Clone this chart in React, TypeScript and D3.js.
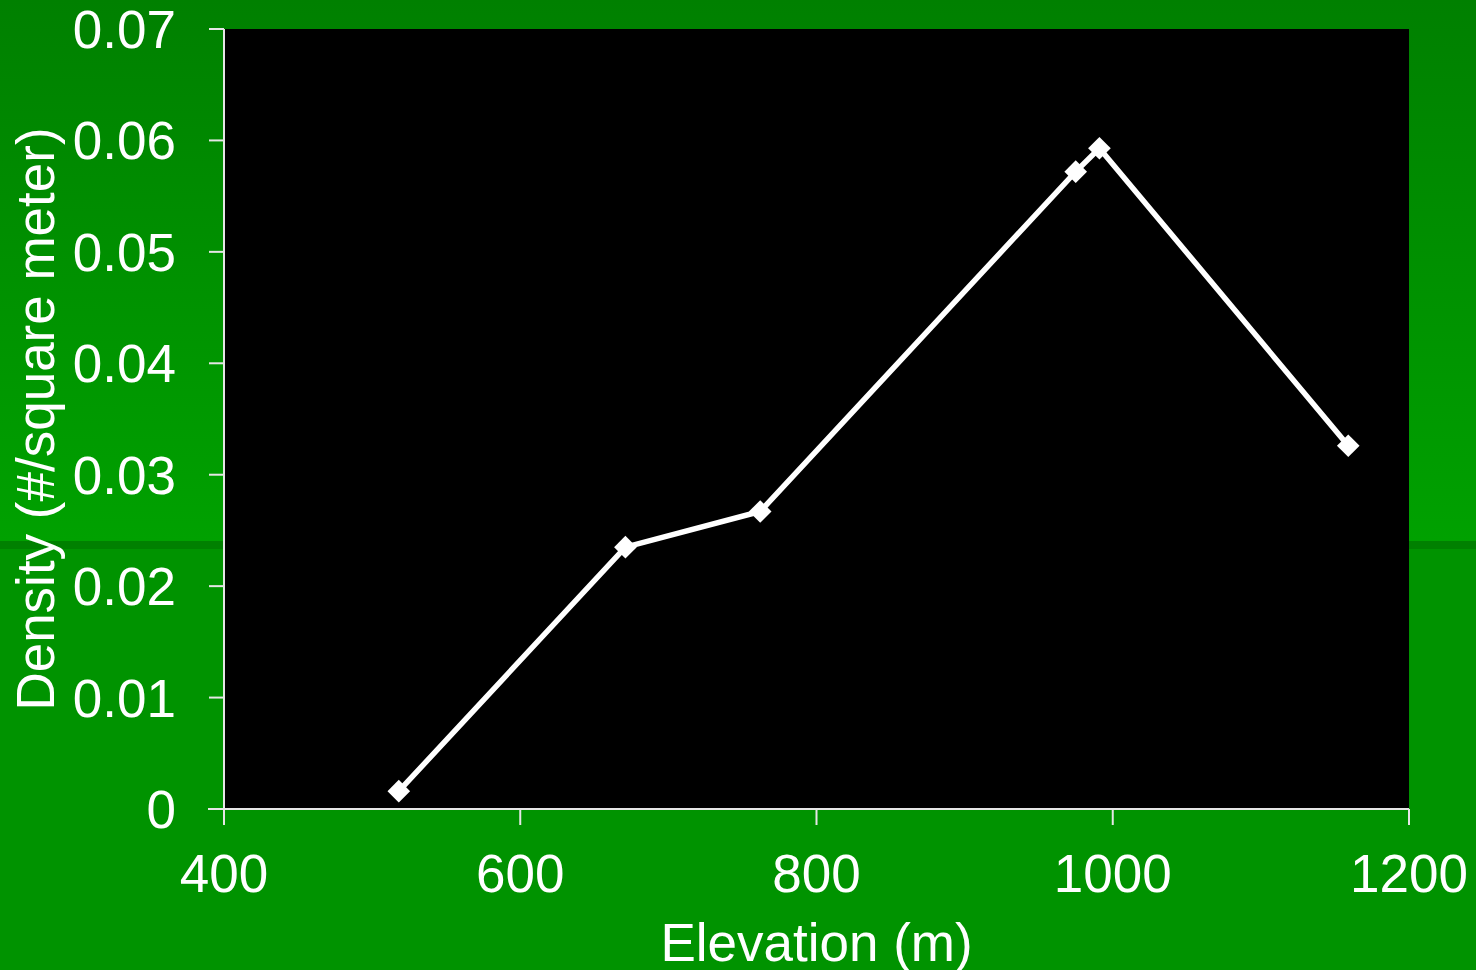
import React from "react";
import * as d3 from "d3";

const elevation = [518, 671, 762, 975, 991, 1159];
const density = [0.0016, 0.0235, 0.0267, 0.0572, 0.0593, 0.0326];
const xTicks = [400, 600, 800, 1000, 1200];
const yTicks = [0, 0.01, 0.02, 0.03, 0.04, 0.05, 0.06, 0.07];
const xTitle = "Elevation (m)";
const yTitle = "Density (#/square meter)";

const W = 1476;
const H = 970;
const M = { left: 224, right: 1409, top: 29, bottom: 809 };

export default function App() {
  const x = d3.scaleLinear().domain([400, 1200]).range([M.left, M.right]);
  const y = d3.scaleLinear().domain([0, 0.07]).range([M.bottom, M.top]);
  const pts = elevation.map((e, i) => [x(e), y(density[i])] as [number, number]);
  const line = d3.line()(pts) || "";
  const font = "'Liberation Sans', Arial, sans-serif";
  const fs = 53;
  return (
    <svg width={W} height={H} style={{ position: "absolute", left: 0, top: 0 }}>
      <defs>
        <linearGradient id="bgTop" x1="0" y1="0" x2="0" y2="1">
          <stop offset="0" stopColor="#008000" />
          <stop offset="1" stopColor="#00a100" />
        </linearGradient>
      </defs>
      <rect x={0} y={0} width={W} height={541} fill="url(#bgTop)" />
      <rect x={0} y={541} width={W} height={8} fill="#008000" />
      <rect x={0} y={549} width={W} height={H - 549} fill="#009300" />
      <rect x={M.left} y={M.top} width={M.right - M.left} height={M.bottom - M.top} fill="#000" />
      <line x1={M.left} x2={M.left} y1={M.top} y2={M.bottom + 16} stroke="#e6e6e6" strokeWidth={2} />
      <line x1={M.left - 16} x2={M.right} y1={M.bottom} y2={M.bottom} stroke="#e6e6e6" strokeWidth={2} />
      {yTicks.map((t) => (
        <g key={"y" + t}>
          <line x1={M.left - 15} x2={M.left} y1={y(t)} y2={y(t)} stroke="#e6e6e6" strokeWidth={2} />
          <text x={176} y={y(t) + 19} textAnchor="end" fill="#fff" fontSize={fs} fontFamily={font}>
            {t === 0 ? "0" : t.toFixed(2)}
          </text>
        </g>
      ))}
      {xTicks.map((t) => (
        <g key={"x" + t}>
          <line x1={x(t)} x2={x(t)} y1={M.bottom} y2={M.bottom + 16} stroke="#e6e6e6" strokeWidth={2} />
          <text x={x(t)} y={892} textAnchor="middle" fill="#fff" fontSize={fs} fontFamily={font}>
            {t}
          </text>
        </g>
      ))}
      <text x={(M.left + M.right) / 2} y={961} textAnchor="middle" fill="#fff" fontSize={fs} fontFamily={font}>
        {xTitle}
      </text>
      <text
        transform={`translate(54, ${(M.top + M.bottom) / 2}) rotate(-90)`}
        textAnchor="middle"
        fill="#fff"
        fontSize={fs}
        fontFamily={font}
      >
        {yTitle}
      </text>
      <path d={line} fill="none" stroke="#fff" strokeWidth={5.5} />
      {pts.map(([px, py], i) => (
        <rect
          key={i}
          x={-8}
          y={-8}
          width={16}
          height={16}
          fill="#fff"
          transform={`translate(${px},${py}) rotate(45)`}
        />
      ))}
    </svg>
  );
}
